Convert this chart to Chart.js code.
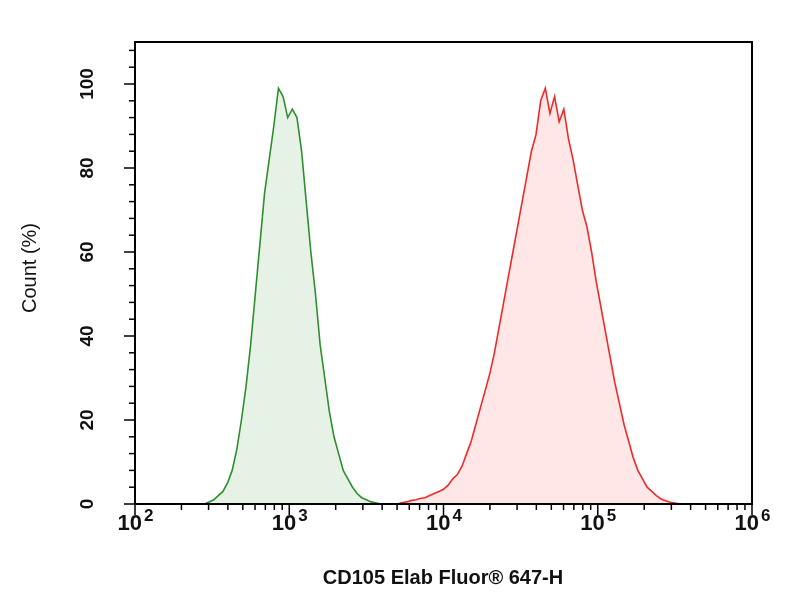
<!DOCTYPE html>
<html>
<head>
<meta charset="utf-8">
<script src="https://cdn.jsdelivr.net/npm/chart.js@4"></script>
<style>
  html, body { margin: 0; padding: 0; background: #fff; }
  #wrap { width: 804px; height: 600px; }
</style>
</head>
<body>
<div id="wrap"><canvas id="histChart"></canvas></div>
<script>
// x values are log10 of fluorescence intensity
const greenLogs = [2.45, 2.48, 2.51, 2.54, 2.57, 2.60, 2.63, 2.66, 2.69, 2.72, 2.75, 2.78, 2.81, 2.84, 2.87, 2.90, 2.93, 2.96, 2.99, 3.02, 3.05, 3.08, 3.11, 3.14, 3.17, 3.20, 3.23, 3.26, 3.29, 3.32, 3.35, 3.38, 3.41, 3.44, 3.47, 3.50, 3.53, 3.56, 3.59];
const greenCounts = [0, 0.5, 1, 2, 3, 5, 8, 13, 20, 28, 38, 50, 62, 74, 82, 90, 99, 97, 92, 94, 92, 84, 72, 60, 50, 38, 30, 22, 16, 12, 8, 6, 4, 2.5, 1.5, 1, 0.5, 0.3, 0];
const redLogs = [3.70, 3.73, 3.76, 3.79, 3.82, 3.85, 3.88, 3.91, 3.94, 3.97, 4.00, 4.03, 4.06, 4.09, 4.12, 4.15, 4.18, 4.21, 4.24, 4.27, 4.30, 4.33, 4.36, 4.39, 4.42, 4.45, 4.48, 4.51, 4.54, 4.57, 4.60, 4.63, 4.66, 4.69, 4.72, 4.75, 4.78, 4.81, 4.84, 4.87, 4.90, 4.93, 4.96, 4.99, 5.02, 5.05, 5.08, 5.11, 5.14, 5.17, 5.20, 5.23, 5.26, 5.29, 5.32, 5.35, 5.38, 5.41, 5.44, 5.47, 5.50, 5.53];
const redCounts = [0, 0.3, 0.5, 0.8, 1, 1.3, 1.5, 2, 2.5, 3, 3.5, 4.5, 6, 7, 9, 12, 15, 19, 23, 27, 31, 36, 42, 48, 54, 60, 66, 72, 78, 84, 88, 96, 99, 93, 97, 91, 94, 87, 82, 76, 70, 66, 60, 53, 47, 41, 35, 29, 24, 19, 15, 11, 8, 6, 4, 3, 2, 1.2, 0.8, 0.4, 0.2, 0];
const xDecades = [2, 3, 4, 5, 6];
const yTicks = [0, 20, 40, 60, 80, 100];

const toPoints = (xs, ys) => xs.map((x, i) => ({ x, y: ys[i] }));

const axesPlugin = {
  id: "flowAxes",
  afterDraw(chart) {
    const { ctx, chartArea } = chart;
    const xs = chart.scales.x;
    const ys = chart.scales.y;
    ctx.save();
    ctx.strokeStyle = "#000";
    ctx.fillStyle = "#111";
    ctx.lineWidth = 2;
    ctx.strokeRect(chartArea.left, chartArea.top, chartArea.right - chartArea.left, chartArea.bottom - chartArea.top);

    // x ticks, major and log minors
    ctx.lineWidth = 1.5;
    for (let d = 2; d <= 6; d++) {
      for (let k = 1; k <= 9; k++) {
        if (d === 6 && k > 1) break;
        const px = xs.getPixelForValue(d + Math.log10(k));
        ctx.beginPath();
        ctx.moveTo(px, chartArea.bottom);
        ctx.lineTo(px, chartArea.bottom + (k === 1 ? 11 : 6));
        ctx.stroke();
      }
    }
    xDecades.forEach(d => {
      const px = xs.getPixelForValue(d);
      ctx.font = "bold 22px 'Liberation Sans', Arial";
      ctx.textBaseline = "alphabetic";
      ctx.textAlign = "right";
      ctx.fillText("10", px + 7, 530);
      ctx.textAlign = "left";
      ctx.font = "bold 17px 'Liberation Sans', Arial";
      ctx.fillText(String(d), px + 9, 521);
    });

    // y ticks
    for (let v = 0; v <= 108; v += 4) {
      const py = ys.getPixelForValue(v);
      ctx.beginPath();
      ctx.moveTo(chartArea.left, py);
      ctx.lineTo(chartArea.left - (v % 20 === 0 ? 11 : 6), py);
      ctx.stroke();
    }
    ctx.font = "bold 19px 'Liberation Sans', Arial";
    yTicks.forEach(v => {
      const py = ys.getPixelForValue(v);
      ctx.save();
      ctx.translate(88, py);
      ctx.rotate(-Math.PI / 2);
      ctx.textAlign = "center";
      ctx.textBaseline = "middle";
      ctx.fillText(String(v), 0, 0);
      ctx.restore();
    });

    // titles
    ctx.font = "bold 20px 'Liberation Sans', Arial";
    ctx.textAlign = "center";
    ctx.textBaseline = "middle";
    ctx.fillText("CD105 Elab Fluor® 647-H", 443, 578);
    ctx.save();
    ctx.translate(30, 268);
    ctx.rotate(-Math.PI / 2);
    ctx.font = "20px 'Liberation Sans', Arial";
    ctx.fillText("Count (%)", 0, 0);
    ctx.restore();
    ctx.restore();
  }
};

new Chart(document.getElementById("histChart"), {
  type: "line",
  data: {
    datasets: [
      {
        data: toPoints(greenLogs, greenCounts),
        borderColor: "#2f8f2f",
        backgroundColor: "rgba(60, 150, 60, 0.12)",
        borderWidth: 1.6,
        fill: "origin",
        pointRadius: 0,
        tension: 0
      },
      {
        data: toPoints(redLogs, redCounts),
        borderColor: "#ee2a2a",
        backgroundColor: "rgba(255, 60, 60, 0.12)",
        borderWidth: 1.6,
        fill: "origin",
        pointRadius: 0,
        tension: 0
      }
    ]
  },
  options: {
    responsive: true,
    maintainAspectRatio: false,
    animation: false,
    layout: { padding: { left: 135, right: 52, top: 42, bottom: 96 } },
    plugins: { legend: { display: false }, tooltip: { enabled: false } },
    scales: {
      x: { type: "linear", min: 2, max: 6, display: false },
      y: { min: 0, max: 110, display: false }
    }
  },
  plugins: [axesPlugin]
});
</script>
</body>
</html>
